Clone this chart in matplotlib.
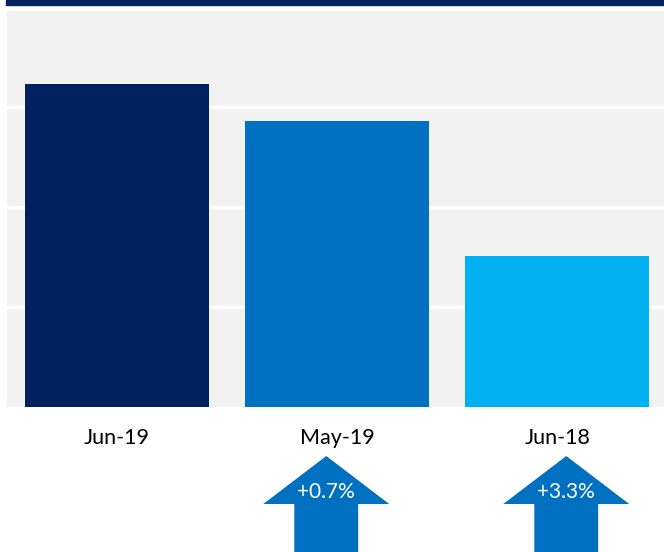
import matplotlib
matplotlib.use("Agg")
import matplotlib.pyplot as plt
from matplotlib.patches import Polygon, Rectangle
from matplotlib.transforms import blended_transform_factory

categories = ["Jun-19", "May-19", "Jun-18"]
values = [3.23, 2.86, 1.51]
colors = ["#002060", "#0070C0", "#00B0F0"]
changes = ["+0.7%", "+3.3%"]
change_offsets = [-0.05, 0.04]

plt.rcParams['font.family'] = ['Lato', 'DejaVu Sans']

W, H = 664, 552
fig = plt.figure(figsize=(W / 100, H / 100), dpi=100)
ax = fig.add_axes([7 / W, 1 - 407 / H, 1 - 7 / W, (407 - 11) / H])
ax.set_facecolor("#F2F2F2")

x = list(range(len(categories)))
ax.bar(x, values, width=0.836, color=colors, zorder=3)
ax.set_xlim(-0.5, 2.484)
ax.set_ylim(0, 3.96)
ax.set_yticks([1, 2, 3])
ax.yaxis.grid(True, color="white", linewidth=2.5, zorder=1)
ax.set_axisbelow(True)
ax.tick_params(axis="y", left=False, labelleft=False)
ax.set_xticks(x)
ax.set_xticklabels(categories, fontsize=15.5, color="#000000")
ax.tick_params(axis="x", length=0, pad=15)
for s in ax.spines.values():
    s.set_visible(False)

# Top navy rule
fig.patches.append(Rectangle((6 / W, 1 - 4.5 / H), 1 - 6 / W, 4.5 / H,
                             transform=fig.transFigure, color="#002060", zorder=5))

# Change arrows
tr = blended_transform_factory(ax.transData, fig.transFigure)
y_tip = 1 - 456 / H
y_base = 1 - 504 / H
y_bot = 0.0
head_hw = 0.286
shaft_hw = 0.145
for i, (lab, off) in enumerate(zip(changes, change_offsets)):
    cx = x[i + 1] + off
    pts = [(cx, y_tip), (cx + head_hw, y_base), (cx + shaft_hw, y_base),
           (cx + shaft_hw, y_bot), (cx - shaft_hw, y_bot), (cx - shaft_hw, y_base),
           (cx - head_hw, y_base)]
    poly = Polygon(pts, closed=True, transform=tr, facecolor="#0070C0",
                   edgecolor="none", clip_on=False)
    fig.patches.append(poly)
    fig.text(cx, 1 - 492 / H, lab, transform=tr, ha="center", va="center",
             color="white", fontsize=15, zorder=10)

fig.savefig("out.png", dpi=100)
